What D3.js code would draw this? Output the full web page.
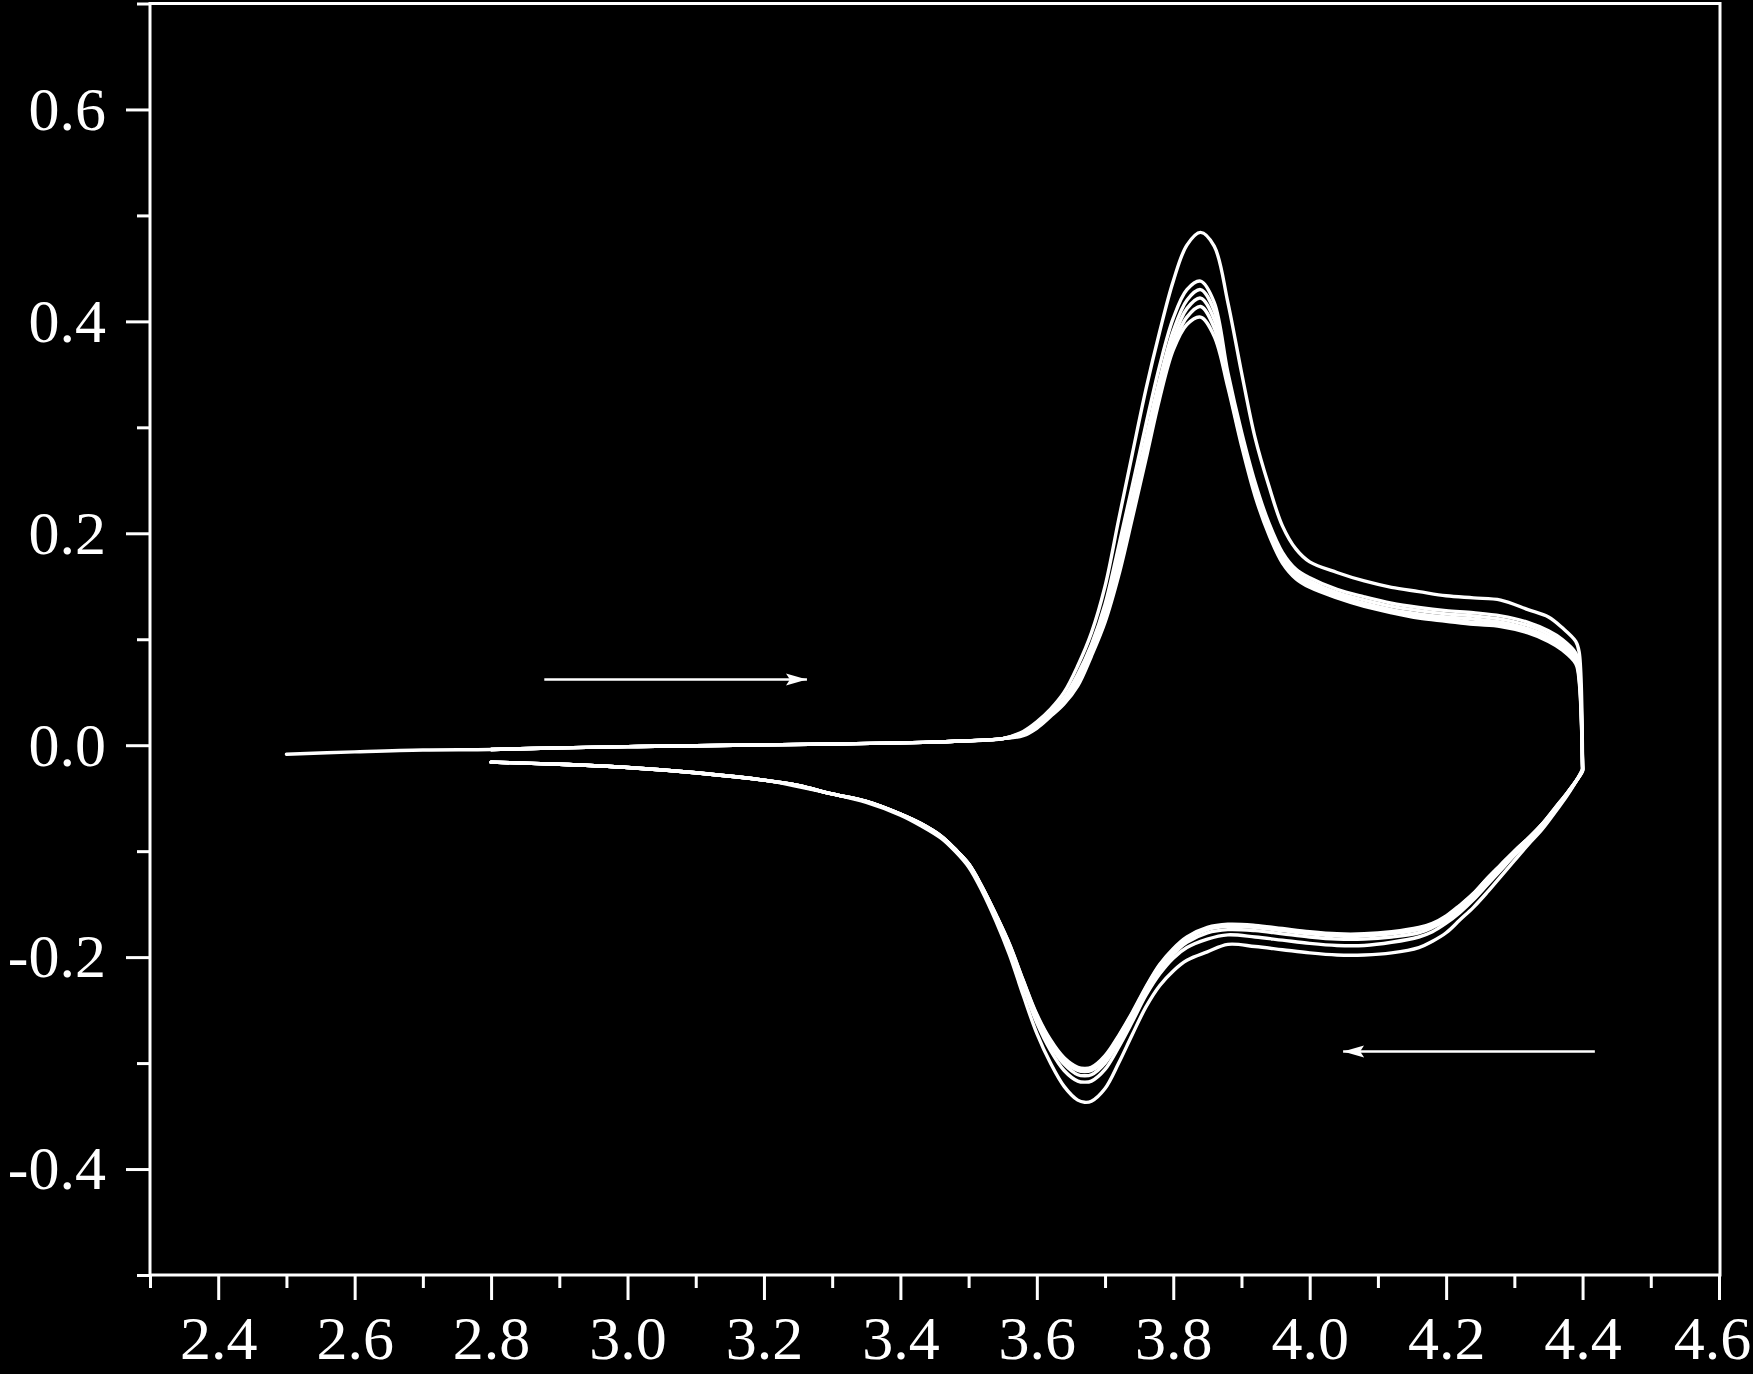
<!DOCTYPE html>
<html><head><meta charset="utf-8">
<script src="https://cdn.jsdelivr.net/npm/d3@7"></script>
<style>
html,body{margin:0;padding:0;background:#000;}
svg{display:block;background:#000;}
</style></head><body>
<svg id="chart" width="1753" height="1374"></svg>
<script>
// ---------- tick values / labels ----------
const xMajorTicks = [2.4, 2.6, 2.8, 3.0, 3.2, 3.4, 3.6, 3.8, 4.0, 4.2, 4.4, 4.6];
const xTickLabels = ["2.4", "2.6", "2.8", "3.0", "3.2", "3.4", "3.6", "3.8", "4.0", "4.2", "4.4", "4.6"];
const xMinorTicks = [2.3, 2.5, 2.7, 2.9, 3.1, 3.3, 3.5, 3.7, 3.9, 4.1, 4.3, 4.5];
const yMajorTicks = [-0.4, -0.2, 0.0, 0.2, 0.4, 0.6];
const yTickLabels = ["-0.4", "-0.2", "0.0", "0.2", "0.4", "0.6"];
const yMinorTicks = [-0.5, -0.3, -0.1, 0.1, 0.3, 0.5, 0.7];

// ---------- first scan start (only cycle 1) ----------
const firstScanPotential = [2.50, 2.60, 2.70];
const firstScanCurrent = [-0.0085, -0.0063, -0.0045];

// ---------- anodic (forward) scan ----------
const anodicPotential = [2.80, 2.90, 3.00, 3.10, 3.20, 3.30, 3.40, 3.45, 3.50, 3.55,
  3.58, 3.60, 3.62, 3.64, 3.66, 3.68, 3.70, 3.72, 3.74, 3.76, 3.78, 3.80, 3.82, 3.84,
  3.86, 3.88, 3.90, 3.92, 3.94, 3.96, 3.98, 4.00, 4.04, 4.08, 4.12, 4.16, 4.20, 4.24, 4.28, 4.32,
  4.35, 4.37, 4.39, 4.395, 4.40];

const anodicCycle1 = [-0.0040, -0.0025, -0.0013, -0.0005, 0.0003, 0.0012, 0.0022, 0.0030, 0.0042, 0.0062,
  0.013, 0.022, 0.034, 0.050, 0.075, 0.106, 0.150, 0.213, 0.275, 0.336, 0.390, 0.438, 0.472, 0.484,
  0.471, 0.418, 0.352, 0.290, 0.245, 0.207, 0.185, 0.173, 0.163, 0.155, 0.149, 0.145, 0.141, 0.139, 0.137, 0.128,
  0.121, 0.111, 0.098, 0.088, -0.018];
const anodicCycle2 = [-0.0040, -0.0025, -0.0013, -0.0005, 0.0003, 0.0012, 0.0022, 0.0030, 0.0042, 0.0062,
  0.012, 0.020, 0.031, 0.045, 0.067, 0.095, 0.133, 0.188, 0.245, 0.303, 0.358, 0.403, 0.430, 0.438,
  0.418, 0.352, 0.296, 0.248, 0.210, 0.182, 0.166, 0.158, 0.147, 0.140, 0.134, 0.130, 0.127, 0.125, 0.122, 0.116,
  0.108, 0.100, 0.087, 0.073, -0.020];
const anodicCycle3 = [-0.0040, -0.0025, -0.0013, -0.0005, 0.0003, 0.0012, 0.0022, 0.0030, 0.0042, 0.0062,
  0.011, 0.019, 0.030, 0.043, 0.063, 0.091, 0.126, 0.178, 0.233, 0.290, 0.345, 0.391, 0.420, 0.430,
  0.410, 0.348, 0.292, 0.244, 0.207, 0.179, 0.163, 0.155, 0.144, 0.137, 0.131, 0.127, 0.124, 0.122, 0.119, 0.113,
  0.105, 0.097, 0.084, 0.069, -0.021];
const anodicCycle4 = [-0.0040, -0.0025, -0.0013, -0.0005, 0.0003, 0.0012, 0.0022, 0.0030, 0.0042, 0.0062,
  0.010, 0.018, 0.029, 0.041, 0.060, 0.088, 0.121, 0.170, 0.224, 0.281, 0.336, 0.383, 0.412, 0.422,
  0.402, 0.344, 0.289, 0.241, 0.204, 0.176, 0.161, 0.153, 0.142, 0.134, 0.128, 0.124, 0.121, 0.119, 0.116, 0.110,
  0.102, 0.094, 0.081, 0.066, -0.021];
const anodicCycle5 = [-0.0040, -0.0025, -0.0013, -0.0005, 0.0003, 0.0012, 0.0022, 0.0030, 0.0042, 0.0062,
  0.010, 0.017, 0.028, 0.040, 0.058, 0.086, 0.118, 0.164, 0.218, 0.275, 0.331, 0.377, 0.404, 0.414,
  0.394, 0.341, 0.286, 0.238, 0.201, 0.174, 0.159, 0.151, 0.140, 0.132, 0.126, 0.122, 0.119, 0.116, 0.114, 0.108,
  0.100, 0.092, 0.079, 0.063, -0.022];
const anodicCycle6 = [-0.0040, -0.0025, -0.0013, -0.0005, 0.0003, 0.0012, 0.0022, 0.0030, 0.0042, 0.0062,
  0.009, 0.016, 0.027, 0.039, 0.056, 0.084, 0.116, 0.160, 0.214, 0.270, 0.327, 0.373, 0.397, 0.404,
  0.386, 0.338, 0.283, 0.235, 0.199, 0.172, 0.157, 0.149, 0.139, 0.131, 0.125, 0.120, 0.117, 0.114, 0.112, 0.106,
  0.098, 0.090, 0.077, 0.060, -0.022];

// ---------- cathodic (reverse) scan ----------
const cathodicPotential = [4.40, 4.38, 4.36, 4.34, 4.32, 4.30, 4.28, 4.26, 4.24, 4.22, 4.20, 4.18, 4.16,
  4.12, 4.08, 4.04, 4.00, 3.96, 3.92, 3.88, 3.85, 3.82,
  3.80, 3.78, 3.76, 3.74, 3.72, 3.70, 3.68, 3.67, 3.66,
  3.64, 3.62, 3.60, 3.58, 3.56, 3.54, 3.52, 3.50, 3.48, 3.46, 3.43, 3.40,
  3.35, 3.30, 3.25, 3.20, 3.10, 3.00, 2.90, 2.80];

const cathodicCycle1 = [-0.022, -0.045, -0.063, -0.080, -0.094, -0.109, -0.124, -0.139, -0.153, -0.165, -0.177, -0.185, -0.191,
  -0.196, -0.198, -0.198, -0.196, -0.193, -0.190, -0.188, -0.195, -0.203,
  -0.213, -0.227, -0.247, -0.273, -0.300, -0.324, -0.336, -0.337, -0.335,
  -0.322, -0.300, -0.272, -0.236, -0.198, -0.166, -0.138, -0.115, -0.100, -0.088, -0.076, -0.066,
  -0.054, -0.046, -0.039, -0.033, -0.026, -0.021, -0.018, -0.016];
const cathodicCycle2 = [-0.023, -0.044, -0.061, -0.077, -0.091, -0.104, -0.118, -0.132, -0.146, -0.158, -0.168, -0.176, -0.181,
  -0.186, -0.189, -0.189, -0.187, -0.184, -0.181, -0.179, -0.183, -0.191,
  -0.201, -0.216, -0.236, -0.261, -0.285, -0.306, -0.317, -0.318, -0.317,
  -0.307, -0.288, -0.262, -0.228, -0.192, -0.162, -0.135, -0.113, -0.099, -0.087, -0.075, -0.065,
  -0.053, -0.046, -0.038, -0.033, -0.026, -0.021, -0.018, -0.016];
const cathodicCycle3 = [-0.023, -0.044, -0.060, -0.076, -0.090, -0.102, -0.116, -0.129, -0.143, -0.155, -0.165, -0.172, -0.177,
  -0.181, -0.183, -0.183, -0.181, -0.178, -0.175, -0.174, -0.177, -0.186,
  -0.197, -0.212, -0.233, -0.257, -0.280, -0.300, -0.311, -0.312, -0.311,
  -0.301, -0.283, -0.258, -0.225, -0.190, -0.161, -0.135, -0.112, -0.098, -0.086, -0.074, -0.065,
  -0.053, -0.046, -0.038, -0.033, -0.026, -0.021, -0.018, -0.016];
const cathodicCycle4 = [-0.024, -0.043, -0.060, -0.075, -0.089, -0.101, -0.114, -0.127, -0.141, -0.153, -0.163, -0.170, -0.174,
  -0.178, -0.180, -0.180, -0.178, -0.175, -0.172, -0.171, -0.174, -0.183,
  -0.194, -0.209, -0.230, -0.254, -0.277, -0.297, -0.307, -0.308, -0.307,
  -0.298, -0.280, -0.256, -0.223, -0.189, -0.160, -0.134, -0.112, -0.098, -0.086, -0.074, -0.065,
  -0.053, -0.046, -0.038, -0.033, -0.026, -0.021, -0.018, -0.016];
const cathodicCycle5 = [-0.024, -0.043, -0.059, -0.075, -0.088, -0.100, -0.113, -0.126, -0.140, -0.152, -0.162, -0.169, -0.173,
  -0.177, -0.179, -0.179, -0.177, -0.174, -0.171, -0.170, -0.173, -0.182,
  -0.193, -0.208, -0.229, -0.253, -0.275, -0.295, -0.305, -0.306, -0.305,
  -0.296, -0.279, -0.255, -0.222, -0.188, -0.160, -0.134, -0.112, -0.098, -0.086, -0.074, -0.065,
  -0.053, -0.046, -0.038, -0.033, -0.026, -0.021, -0.018, -0.016];
const cathodicCycle6 = [-0.024, -0.043, -0.059, -0.075, -0.088, -0.100, -0.113, -0.126, -0.140, -0.151, -0.161, -0.168, -0.172,
  -0.176, -0.178, -0.178, -0.176, -0.173, -0.170, -0.169, -0.172, -0.181,
  -0.192, -0.207, -0.228, -0.252, -0.274, -0.293, -0.304, -0.305, -0.304,
  -0.295, -0.278, -0.254, -0.222, -0.188, -0.160, -0.134, -0.112, -0.098, -0.086, -0.074, -0.065,
  -0.053, -0.046, -0.038, -0.033, -0.026, -0.021, -0.018, -0.016];

// ---------- scan-direction arrows (data units; head at "to") ----------
const arrowFromV = [2.878, 4.418];
const arrowToV = [3.263, 4.049];
const arrowCurrent = [0.062, -0.289];

// ---------- drawing ----------
const svg = d3.select("#chart");
const x = d3.scaleLinear().domain([2.3, 4.6]).range([150, 1719]);
const y = d3.scaleLinear().domain([-0.5, 0.7]).range([1275, 3.5]);
const FONT = "'Liberation Serif', 'Times New Roman', Times, serif";

svg.append("rect").attr("width", 1753).attr("height", 1374).attr("fill", "#000");

const anodic = [anodicCycle1, anodicCycle2, anodicCycle3, anodicCycle4, anodicCycle5, anodicCycle6];
const cathodic = [cathodicCycle1, cathodicCycle2, cathodicCycle3, cathodicCycle4, cathodicCycle5, cathodicCycle6];

const line = d3.line()
  .x(d => x(d[0]))
  .y(d => y(d[1]))
  .curve(d3.curveCatmullRom.alpha(0.5));

const cycles = anodic.map((a, k) => {
  let pts = [];
  if (k === 0) pts = firstScanPotential.map((v, i) => [v, firstScanCurrent[i]]);
  pts = pts.concat(anodicPotential.map((v, i) => [v, a[i]]));
  pts = pts.concat(cathodicPotential.map((v, i) => [v, cathodic[k][i]]));
  return pts;
});

svg.append("g").selectAll("path").data(cycles).join("path")
  .attr("d", line)
  .attr("fill", "none")
  .attr("stroke", "#fff")
  .attr("stroke-width", 3.4)
  .attr("stroke-linejoin", "round")
  .attr("stroke-linecap", "round");

// arrows
const defs = svg.append("defs");
defs.append("marker")
  .attr("id", "head")
  .attr("markerUnits", "userSpaceOnUse")
  .attr("markerWidth", 24).attr("markerHeight", 14)
  .attr("viewBox", "0 -7 24 14")
  .attr("refX", 21).attr("refY", 0)
  .attr("orient", "auto")
  .append("path")
  .attr("d", "M0,-6 L21,0 L0,6 L4,0 Z")
  .attr("fill", "#fff");

svg.append("g").selectAll("line").data(arrowFromV).join("line")
  .attr("x1", (d, i) => x(arrowFromV[i]))
  .attr("x2", (d, i) => x(arrowToV[i]))
  .attr("y1", (d, i) => y(arrowCurrent[i]))
  .attr("y2", (d, i) => y(arrowCurrent[i]))
  .attr("stroke", "#fff")
  .attr("stroke-width", 2.6)
  .attr("marker-end", "url(#head)");

// axes
function styleAxis(g) {
  g.select(".domain").remove();
  g.selectAll(".tick line").attr("stroke", "#fff").attr("stroke-width", 3);
  g.selectAll(".tick text").attr("fill", "#fff")
    .style("font-family", FONT).style("font-size", "62px");
}

const xAxisG = svg.append("g").attr("transform", "translate(0,1275)")
  .call(d3.axisBottom(x).tickValues(xMajorTicks)
    .tickFormat((d, i) => xTickLabels[i]).tickSize(25).tickPadding(15).tickSizeOuter(0))
  .call(styleAxis);
// keep the last label inside the picture edge
xAxisG.selectAll(".tick text").filter((d, i) => i === xMajorTicks.length - 1).attr("x", -7);

svg.append("g").attr("transform", "translate(0,1275)")
  .call(d3.axisBottom(x).tickValues(xMinorTicks).tickFormat("").tickSize(13).tickSizeOuter(0))
  .call(styleAxis);

svg.append("g").attr("transform", "translate(150,0)")
  .call(d3.axisLeft(y).tickValues(yMajorTicks)
    .tickFormat((d, i) => yTickLabels[i]).tickSize(24).tickPadding(20).tickSizeOuter(0))
  .call(styleAxis);
svg.append("g").attr("transform", "translate(150,0)")
  .call(d3.axisLeft(y).tickValues(yMinorTicks).tickFormat("").tickSize(13).tickSizeOuter(0))
  .call(styleAxis);

// frame
svg.append("rect")
  .attr("x", x(2.3)).attr("y", y(0.7))
  .attr("width", x(4.6) - x(2.3) + 1).attr("height", y(-0.5) - y(0.7))
  .attr("fill", "none").attr("stroke", "#fff").attr("stroke-width", 3);
</script>
</body></html>
